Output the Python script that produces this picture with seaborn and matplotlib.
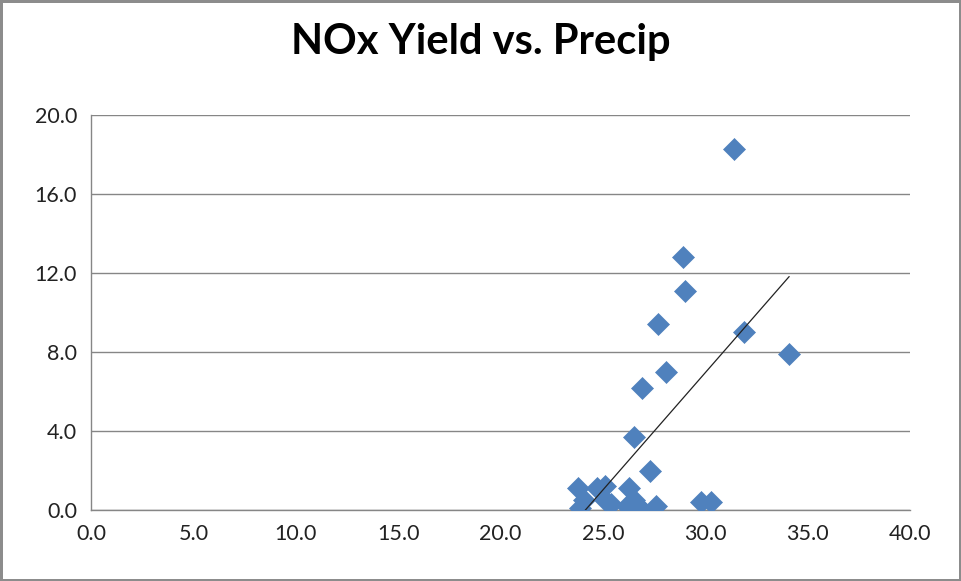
import numpy as np
import pandas as pd
import matplotlib
matplotlib.use("Agg")
import matplotlib.pyplot as plt
import seaborn as sns

# precip (x) and NOx yield (y)
precip = [23.8, 23.9, 24.1, 24.7, 25.1, 25.1, 25.4, 26.3, 26.2, 26.5,
          26.8, 26.6, 27.6, 27.3, 26.5, 26.9, 28.1, 27.7, 29.0, 28.9,
          31.4, 31.9, 34.1, 29.8, 30.3]
nox_yield = [1.1, 0.1, 0.5, 1.1, 1.2, 0.5, 0.3, 1.1, 0.2, 0.5,
             0.1, 0.3, 0.2, 2.0, 3.7, 6.2, 7.0, 9.4, 11.1, 12.8,
             18.3, 9.0, 7.9, 0.4, 0.4]
x_ticks = [0, 5, 10, 15, 20, 25, 30, 35, 40]
y_ticks = [0, 4, 8, 12, 16, 20]

df = pd.DataFrame({"precip": precip, "nox": nox_yield})

sns.set_style("white")
plt.rcParams["font.family"] = ["Lato", "DejaVu Sans"]

grid_col = "#868686"
fig = plt.figure(figsize=(9.61, 5.81), dpi=100)
fig.patch.set_edgecolor("#8c8c8c")
fig.patch.set_linewidth(2.5)
ax = fig.add_axes([0.0947, 0.1222, 0.8522, 0.6798])

sns.scatterplot(data=df, x="precip", y="nox", marker="D", s=125,
                color="#4F81BD", edgecolor="#4F81BD", linewidth=0.5,
                ax=ax, zorder=3)

# linear trendline across the data range
b, a = np.polyfit(df["precip"], df["nox"], 1)
xs = np.array([df["precip"].min(), df["precip"].max()])
ax.plot(xs, a + b * xs, color="#222222", lw=0.9, zorder=4)

ax.set_xlim(0, 40)
ax.set_ylim(0, 20)
ax.set_xticks(x_ticks)
ax.set_yticks(y_ticks)
ax.set_xticklabels([f"{v:.1f}" for v in x_ticks])
ax.set_yticklabels([f"{v:.1f}" for v in y_ticks])
ax.set_xlabel("")
ax.set_ylabel("")

ax.yaxis.grid(True, color=grid_col, lw=1)
ax.xaxis.grid(False)
ax.set_axisbelow(True)
for side in ["top", "right"]:
    ax.spines[side].set_visible(False)
for side in ["left", "bottom"]:
    ax.spines[side].set_color(grid_col)
    ax.spines[side].set_linewidth(1)
ax.tick_params(axis="both", direction="out", length=5, width=1,
               color=grid_col, labelsize=15.5, labelcolor="#222222", pad=5)

fig.suptitle("NOx Yield vs. Precip", x=0.5, y=0.96, fontsize=30,
             fontweight="bold", color="black")

fig.savefig("out.png", dpi=100, edgecolor=fig.get_edgecolor())
